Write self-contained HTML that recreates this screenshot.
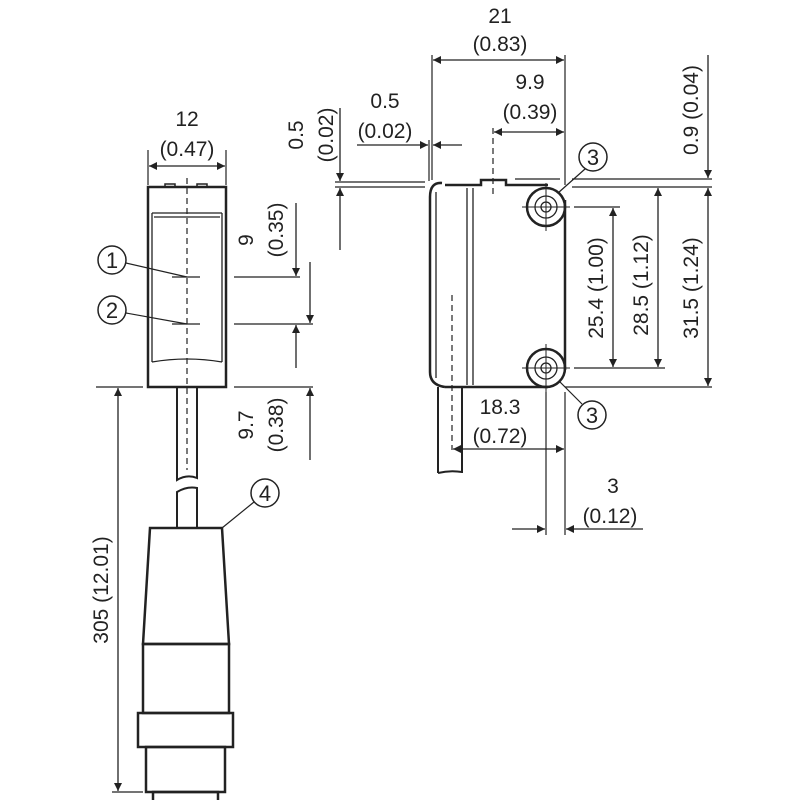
<!DOCTYPE html>
<html><head><meta charset="utf-8"><style>
html,body{margin:0;padding:0;background:#fff;}
svg{display:block;}
text{font-family:"Liberation Sans",sans-serif;fill:#222;}
</style></head><body>
<svg width="800" height="800" viewBox="0 0 800 800" xmlns="http://www.w3.org/2000/svg">
<defs>
<marker id="a" viewBox="0 0 10 10" refX="10" refY="5" markerWidth="10" markerHeight="8" markerUnits="userSpaceOnUse" orient="auto"><path d="M0,0 L10,5 L0,10 z" fill="#222"/></marker>
</defs>
<g stroke="#222" fill="none">
<!-- LEFT SENSOR -->
<rect x="148" y="187" width="78" height="200" stroke-width="2.5"/>
<path d="M165,187 v-3 h10 v3 M197,187 v-3 h10 v3" stroke-width="1.5"/>
<path d="M152,213 H222 M154,217 H220 M152,213 V362 M222,213 V362 M152,362 Q187,356 222,362" stroke-width="1.3"/>
<line x1="187" y1="178" x2="187" y2="470" stroke-width="1.2" stroke-dasharray="6,4"/>
<path d="M172,277 H200 M172,324 H200" stroke-width="1.2"/>
<!-- cable -->
<path d="M177,387 V480 Q187,474 197,478 V387" stroke-width="2"/>
<path d="M177,528 V492 Q187,486 197,488 V528" stroke-width="2"/>
<!-- connector -->
<path d="M150,528 H222 L229,644 H143 Z" stroke-width="2.5"/>
<rect x="143" y="644" width="86" height="69" stroke-width="2.5"/>
<rect x="138" y="713" width="95" height="34" stroke-width="2.5"/>
<rect x="146" y="747" width="79" height="45" stroke-width="2.5"/>
<rect x="153" y="792" width="65" height="10" stroke-width="2.5"/>
<!-- left dims -->
<line x1="148" y1="150" x2="148" y2="185" stroke-width="1.2"/>
<line x1="226" y1="150" x2="226" y2="185" stroke-width="1.2"/>
<line x1="187" y1="166" x2="149" y2="166" stroke-width="1.3" marker-end="url(#a)"/>
<line x1="187" y1="166" x2="225" y2="166" stroke-width="1.3" marker-end="url(#a)"/>
<path d="M234,277 H300 M234,324 H313 M234,387 H313 M96,387 H143" stroke-width="1.2"/>
<line x1="296" y1="203" x2="296" y2="276" stroke-width="1.3" marker-end="url(#a)"/>
<line x1="296" y1="368" x2="296" y2="325" stroke-width="1.3" marker-end="url(#a)"/>
<line x1="310" y1="262" x2="310" y2="323" stroke-width="1.3" marker-end="url(#a)"/>
<line x1="310" y1="460" x2="310" y2="388" stroke-width="1.3" marker-end="url(#a)"/>
<line x1="118" y1="590" x2="118" y2="388" stroke-width="1.3" marker-end="url(#a)"/>
<line x1="118" y1="590" x2="118" y2="791" stroke-width="1.3" marker-end="url(#a)"/>
<line x1="112" y1="792" x2="143" y2="792" stroke-width="1.2"/>
<!-- circles 1,2,4 -->
<circle cx="112" cy="260" r="14" stroke-width="1.5"/>
<circle cx="112" cy="310" r="14" stroke-width="1.5"/>
<path d="M126,263 L187,277 M126,313 L187,324" stroke-width="1.2"/>
<circle cx="265" cy="493" r="14" stroke-width="1.5"/>
<path d="M254,502 L222,528" stroke-width="1.2"/>

<!-- RIGHT SENSOR -->
<path d="M445,185 H481 V180 H506 V185 H548 M565,200 V370 M548,387 H445" stroke-width="2.5"/>
<path d="M442,183 Q430,182 430,197 V372 Q430,385 445,387" stroke-width="2.5"/>
<path d="M436,192 V378" stroke-width="1.3"/>
<path d="M467,188 V385 M473,188 V385" stroke-width="1.3"/>
<circle cx="546" cy="207" r="19" stroke-width="2.5"/>
<circle cx="546" cy="207" r="11" stroke-width="1.3"/>
<circle cx="546" cy="207" r="5" stroke-width="1.3"/>
<circle cx="546" cy="368" r="19" stroke-width="2.5"/>
<circle cx="546" cy="368" r="11" stroke-width="1.3"/>
<circle cx="546" cy="368" r="5" stroke-width="1.3"/>
<path d="M522,207 H570 M546,183 V231 M522,368 H570 M546,344 V392" stroke-width="1"/>
<path d="M438,387 V473 M462,387 V473 M438,473 Q450,470 462,472" stroke-width="2"/>
<line x1="452" y1="295" x2="452" y2="450" stroke-width="1.2" stroke-dasharray="6,4"/>
<line x1="493" y1="128" x2="493" y2="195" stroke-width="1.2" stroke-dasharray="6,4"/>
<!-- top dims -->
<path d="M432,55 V180 M565,55 V185 M429,140 V181" stroke-width="1.2"/>
<line x1="498" y1="60" x2="433" y2="60" stroke-width="1.3" marker-end="url(#a)"/>
<line x1="498" y1="60" x2="564" y2="60" stroke-width="1.3" marker-end="url(#a)"/>
<line x1="530" y1="132" x2="494" y2="132" stroke-width="1.3" marker-end="url(#a)"/>
<line x1="530" y1="132" x2="564" y2="132" stroke-width="1.3" marker-end="url(#a)"/>
<line x1="357" y1="145" x2="428" y2="145" stroke-width="1.3" marker-end="url(#a)"/>
<line x1="462" y1="145" x2="433" y2="145" stroke-width="1.3" marker-end="url(#a)"/>
<path d="M335,182 H425 M335,187 H425 M515,179 H560 M572,179 H712 M572,187 H712" stroke-width="1.2"/>
<line x1="340" y1="108" x2="340" y2="181" stroke-width="1.3" marker-end="url(#a)"/>
<line x1="340" y1="250" x2="340" y2="188" stroke-width="1.3" marker-end="url(#a)"/>
<line x1="708" y1="55" x2="708" y2="178" stroke-width="1.3" marker-end="url(#a)"/>
<!-- right dims -->
<path d="M574,207 H620 M574,368 H665 M565,387 H712" stroke-width="1.2"/>
<line x1="613" y1="290" x2="613" y2="208" stroke-width="1.3" marker-end="url(#a)"/>
<line x1="613" y1="290" x2="613" y2="367" stroke-width="1.3" marker-end="url(#a)"/>
<line x1="658" y1="280" x2="658" y2="188" stroke-width="1.3" marker-end="url(#a)"/>
<line x1="658" y1="280" x2="658" y2="367" stroke-width="1.3" marker-end="url(#a)"/>
<line x1="708" y1="290" x2="708" y2="188" stroke-width="1.3" marker-end="url(#a)"/>
<line x1="708" y1="290" x2="708" y2="386" stroke-width="1.3" marker-end="url(#a)"/>
<!-- bottom dims -->
<path d="M546,392 V535 M565,392 V535" stroke-width="1.2"/>
<line x1="500" y1="449" x2="453" y2="449" stroke-width="1.3" marker-end="url(#a)"/>
<line x1="500" y1="449" x2="564" y2="449" stroke-width="1.3" marker-end="url(#a)"/>
<line x1="512" y1="529" x2="545" y2="529" stroke-width="1.3" marker-end="url(#a)"/>
<line x1="643" y1="529" x2="566" y2="529" stroke-width="1.3" marker-end="url(#a)"/>
<!-- circles 3 -->
<circle cx="593" cy="157" r="14" stroke-width="1.5"/>
<path d="M585,169 L558,193" stroke-width="1.2"/>
<circle cx="592" cy="415" r="14" stroke-width="1.5"/>
<path d="M582,404 L559,381" stroke-width="1.2"/>
</g>
<g font-size="21" text-anchor="middle">
<text x="187" y="126">12</text>
<text x="187" y="156">(0.47)</text>
<text x="112" y="268" font-size="22">1</text>
<text x="112" y="318" font-size="22">2</text>
<text x="265" y="501" font-size="22">4</text>
<text x="593" y="165" font-size="22">3</text>
<text x="592" y="423" font-size="22">3</text>
<text x="500" y="23">21</text>
<text x="500" y="51">(0.83)</text>
<text x="530" y="89">9.9</text>
<text x="530" y="119">(0.39)</text>
<text x="385" y="108">0.5</text>
<text x="385" y="138">(0.02)</text>
<text x="500" y="414">18.3</text>
<text x="500" y="443">(0.72)</text>
<text x="613" y="493">3</text>
<text x="610" y="523">(0.12)</text>
<text transform="translate(303,135) rotate(-90)">0.5</text>
<text transform="translate(333,135) rotate(-90)">(0.02)</text>
<text transform="translate(253,240) rotate(-90)">9</text>
<text transform="translate(283,230) rotate(-90)">(0.35)</text>
<text transform="translate(253,425) rotate(-90)">9.7</text>
<text transform="translate(283,425) rotate(-90)">(0.38)</text>
<text transform="translate(108,590) rotate(-90)">305 (12.01)</text>
<text transform="translate(603,288) rotate(-90)">25.4 (1.00)</text>
<text transform="translate(648,285) rotate(-90)">28.5 (1.12)</text>
<text transform="translate(698,288) rotate(-90)">31.5 (1.24)</text>
<text transform="translate(698,110) rotate(-90)">0.9 (0.04)</text>
</g>
</svg>
</body></html>
